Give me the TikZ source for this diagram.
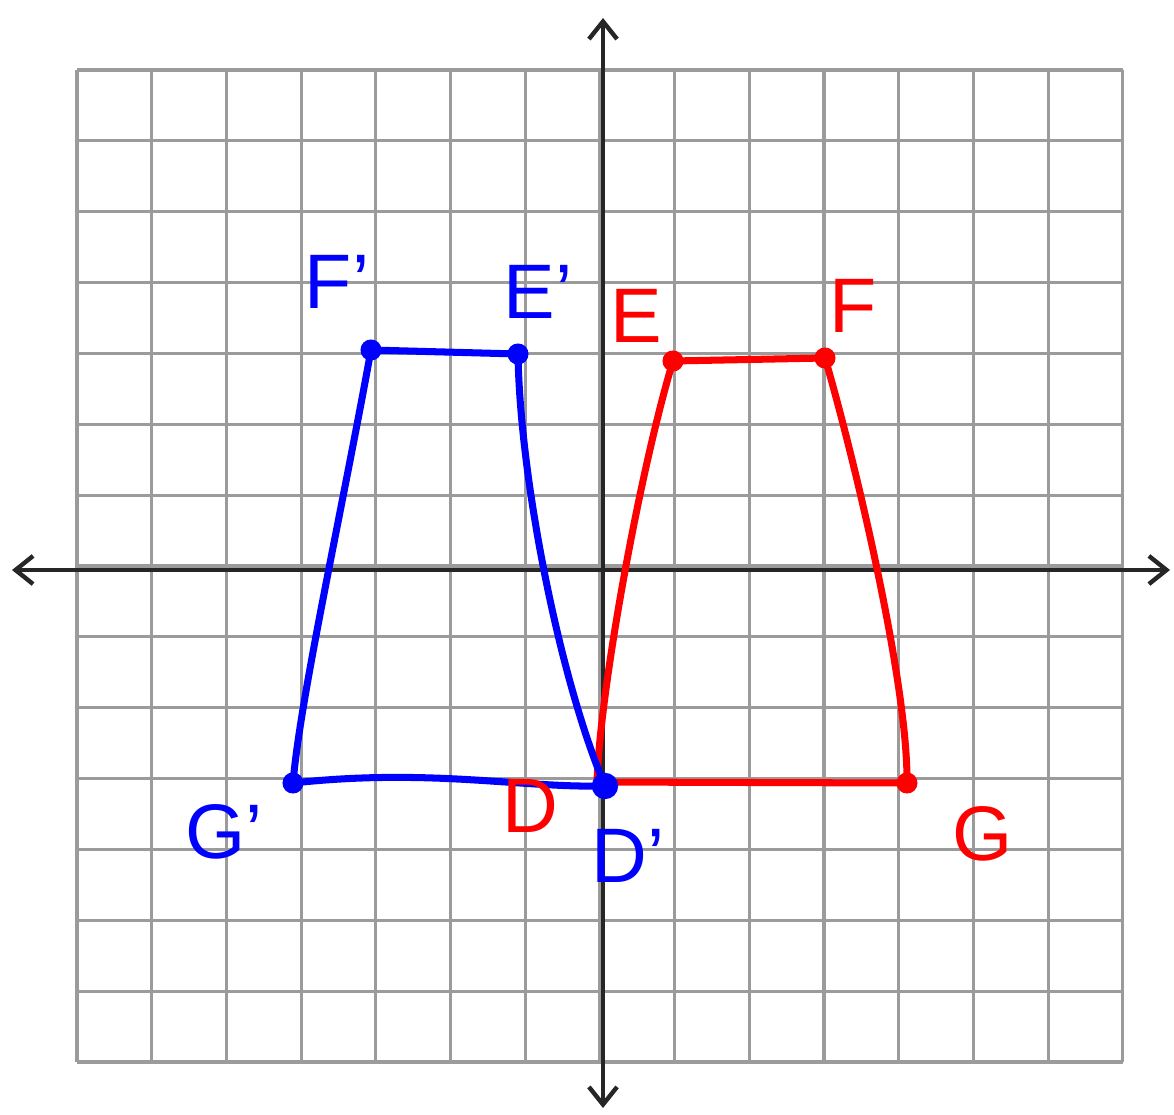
\documentclass[tikz,border=0pt]{standalone}
\usepackage{fontspec}
\setmainfont{Liberation Sans}
\usetikzlibrary{arrows.meta}
\definecolor{gridgray}{RGB}{155,155,155}
\definecolor{penred}{RGB}{255,0,0}
\definecolor{penblue}{RGB}{0,0,255}
\tikzset{
  gridline/.style={draw=gridgray, line width=1.8pt},
  axisline/.style={draw=black!85, line width=2.5pt, {Straight Barb[length=10pt,width=16pt,line width=2.5pt]}-{Straight Barb[length=10pt,width=16pt,line width=2.5pt]}},
  redpen/.style={draw=penred, line width=4pt, line cap=round, line join=round},
  bluepen/.style={draw=penblue, line width=4pt, line cap=round, line join=round},
  reddot/.style={circle, fill=penred, inner sep=0pt, minimum size=12pt},
  bluedot/.style={circle, fill=penblue, inner sep=0pt, minimum size=12pt},
  redlab/.style={text=penred, font=\fontsize{44}{44}\selectfont, inner sep=0pt},
  bluelab/.style={text=penblue, font=\fontsize{44}{44}\selectfont, inner sep=0pt}
}
\begin{document}
\begin{tikzpicture}[x=0.02cm,y=-0.02cm]
\useasboundingbox (0,0) rectangle (1174,1115);
% grid
\foreach \i in {0,...,14} {
  \draw[gridline] ({77+\i*74.7},70) -- ({77+\i*74.7},1062);
  \draw[gridline] (77,{70+\i*70.86}) -- (1123,{70+\i*70.86});
}
% axes
\coordinate (xl) at (12,570);
\coordinate (xr) at (1170,570);
\coordinate (yt) at (603,18);
\coordinate (yb) at (603,1108);
\draw[axisline] (xl) -- (xr);
\draw[axisline] (yt) -- (yb);

% red figure
\coordinate (D) at (597,782);
\coordinate (E) at (673,361);
\coordinate (F) at (825,358);
\coordinate (G) at (907,783);
\coordinate (r1) at (600,690);
\coordinate (r2) at (640,470);
\coordinate (r3) at (852,450);
\coordinate (r4) at (908,680);
\draw[redpen] (D) .. controls (r1) and (r2) .. (E);
\draw[redpen] (E) -- (F);
\draw[redpen] (F) .. controls (r3) and (r4) .. (G);
\draw[redpen] (G) -- (D);
\node[reddot] (Ed) at (E) {};
\node[reddot] (Fd) at (F) {};
\node[reddot] (Gd) at (G) {};

% blue figure
\coordinate (Dp) at (605,786);
\coordinate (Ep) at (518,354);
\coordinate (Fp) at (371,350);
\coordinate (Gp) at (293,783);
\coordinate (b1) at (520,480);
\coordinate (b2) at (560,680);
\coordinate (b3) at (340,520);
\coordinate (b4) at (300,700);
\coordinate (b5) at (430,768);
\coordinate (b6) at (520,788);
\draw[bluepen] (Fp) -- (Ep);
\draw[bluepen] (Ep) .. controls (b1) and (b2) .. (Dp);
\draw[bluepen] (Fp) .. controls (b3) and (b4) .. (Gp);
\draw[bluepen] (Gp) .. controls (b5) and (b6) .. (Dp);
\node[bluedot] (Fpd) at (Fp) {};
\node[bluedot] (Epd) at (Ep) {};
\node[bluedot] (Gpd) at (Gp) {};
\node[bluedot, minimum size=15pt] (Dpd) at (Dp) {};

% labels
\node[redlab] (lE) at (636,316) {E};
\node[redlab] (lF) at (853,306) {F};
\node[redlab] (lD) at (530,806) {D};
\node[redlab] (lG) at (983,834) {G};
\node[bluelab] (lFp) at (337,282) {F'};
\node[bluelab] (lEp) at (538,292) {E'};
\node[bluelab] (lGp) at (224,832) {G'};
\node[bluelab] (lDp) at (628,856) {D'};
\end{tikzpicture}
\end{document}
